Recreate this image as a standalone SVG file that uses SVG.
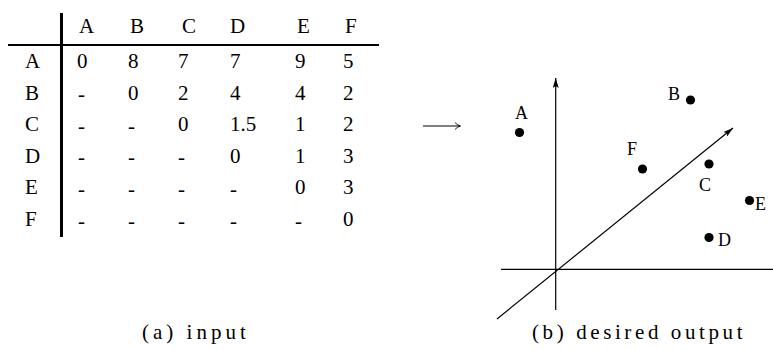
<svg xmlns="http://www.w3.org/2000/svg" width="773" height="350" viewBox="0 0 773 350">
<defs>
<style>
.ln{stroke:#000;fill:none}
.dot{fill:#000}
</style>
<marker id="ah" viewBox="0 0 10 6" refX="10" refY="3" markerWidth="10" markerHeight="6" markerUnits="userSpaceOnUse" orient="auto">
<path d="M0,0 L10,3 L0,6 L2,3 Z" fill="#000"/>
</marker>
</defs>
<rect width="773" height="350" fill="#fff"/>
<g id="table">
<line x1="61.5" y1="13" x2="61.5" y2="237" stroke="#000" stroke-width="3"/>
<line x1="8" y1="45" x2="379" y2="45" stroke="#000" stroke-width="1.8"/>
<text x="79" y="33" font-family="Liberation Serif, serif" font-size="21">A</text>
<text x="130" y="33" font-family="Liberation Serif, serif" font-size="21">B</text>
<text x="182" y="33" font-family="Liberation Serif, serif" font-size="21">C</text>
<text x="230" y="33" font-family="Liberation Serif, serif" font-size="21">D</text>
<text x="297" y="33" font-family="Liberation Serif, serif" font-size="21">E</text>
<text x="345" y="33" font-family="Liberation Serif, serif" font-size="21">F</text>
<text x="25" y="68" font-family="Liberation Serif, serif" font-size="21">A</text>
<text x="77" y="68" font-family="Liberation Serif, serif" font-size="21">0</text>
<text x="128" y="68" font-family="Liberation Serif, serif" font-size="21">8</text>
<text x="178" y="68" font-family="Liberation Serif, serif" font-size="21">7</text>
<text x="230" y="68" font-family="Liberation Serif, serif" font-size="21">7</text>
<text x="295" y="68" font-family="Liberation Serif, serif" font-size="21">9</text>
<text x="343" y="68" font-family="Liberation Serif, serif" font-size="21">5</text>
<text x="25" y="99.5" font-family="Liberation Serif, serif" font-size="21">B</text>
<text x="78" y="101" font-family="Liberation Serif, serif" font-size="21">-</text>
<text x="128" y="99.5" font-family="Liberation Serif, serif" font-size="21">0</text>
<text x="178" y="99.5" font-family="Liberation Serif, serif" font-size="21">2</text>
<text x="230" y="99.5" font-family="Liberation Serif, serif" font-size="21">4</text>
<text x="295" y="99.5" font-family="Liberation Serif, serif" font-size="21">4</text>
<text x="343" y="99.5" font-family="Liberation Serif, serif" font-size="21">2</text>
<text x="25" y="131" font-family="Liberation Serif, serif" font-size="21">C</text>
<text x="78" y="132.5" font-family="Liberation Serif, serif" font-size="21">-</text>
<text x="128" y="132.5" font-family="Liberation Serif, serif" font-size="21">-</text>
<text x="178" y="131" font-family="Liberation Serif, serif" font-size="21">0</text>
<text x="230" y="131" font-family="Liberation Serif, serif" font-size="21">1.5</text>
<text x="295" y="131" font-family="Liberation Serif, serif" font-size="21">1</text>
<text x="343" y="131" font-family="Liberation Serif, serif" font-size="21">2</text>
<text x="25" y="162.5" font-family="Liberation Serif, serif" font-size="21">D</text>
<text x="78" y="164" font-family="Liberation Serif, serif" font-size="21">-</text>
<text x="128" y="164" font-family="Liberation Serif, serif" font-size="21">-</text>
<text x="178" y="164" font-family="Liberation Serif, serif" font-size="21">-</text>
<text x="230" y="162.5" font-family="Liberation Serif, serif" font-size="21">0</text>
<text x="295" y="162.5" font-family="Liberation Serif, serif" font-size="21">1</text>
<text x="343" y="162.5" font-family="Liberation Serif, serif" font-size="21">3</text>
<text x="25" y="194" font-family="Liberation Serif, serif" font-size="21">E</text>
<text x="78" y="195.5" font-family="Liberation Serif, serif" font-size="21">-</text>
<text x="128" y="195.5" font-family="Liberation Serif, serif" font-size="21">-</text>
<text x="178" y="195.5" font-family="Liberation Serif, serif" font-size="21">-</text>
<text x="230" y="195.5" font-family="Liberation Serif, serif" font-size="21">-</text>
<text x="295" y="194" font-family="Liberation Serif, serif" font-size="21">0</text>
<text x="343" y="194" font-family="Liberation Serif, serif" font-size="21">3</text>
<text x="25" y="226" font-family="Liberation Serif, serif" font-size="21">F</text>
<text x="78" y="227.5" font-family="Liberation Serif, serif" font-size="21">-</text>
<text x="128" y="227.5" font-family="Liberation Serif, serif" font-size="21">-</text>
<text x="178" y="227.5" font-family="Liberation Serif, serif" font-size="21">-</text>
<text x="230" y="227.5" font-family="Liberation Serif, serif" font-size="21">-</text>
<text x="295" y="227.5" font-family="Liberation Serif, serif" font-size="21">-</text>
<text x="343" y="226" font-family="Liberation Serif, serif" font-size="21">0</text>
</g>
<g id="connectors">
<line class="ln" x1="423" y1="126" x2="460" y2="126" stroke-width="1"/>
<path class="ln" d="M455,122.5 Q457,125 460.5,126 Q457,127 455,129.5" stroke-width="0.9"/>
<line class="ln" x1="555.7" y1="310" x2="555.7" y2="78" stroke-width="1.2" marker-end="url(#ah)"/>
<line class="ln" x1="501" y1="269.3" x2="773" y2="269.3" stroke-width="1.2"/>
<line class="ln" x1="497" y1="319" x2="733" y2="128" stroke-width="1.2" marker-end="url(#ah)"/>
</g>
<g id="node-A"><circle class="dot" cx="519.5" cy="132.5" r="4.6"/><text x="515" y="119" font-family="Liberation Serif, serif" font-size="18">A</text></g>
<g id="node-B"><circle class="dot" cx="690.5" cy="100" r="4.6"/><text x="668" y="99.5" font-family="Liberation Serif, serif" font-size="18">B</text></g>
<g id="node-F"><circle class="dot" cx="642.5" cy="169" r="4.6"/><text x="627" y="155" font-family="Liberation Serif, serif" font-size="18">F</text></g>
<g id="node-C"><circle class="dot" cx="709" cy="164" r="4.6"/><text x="699" y="191" font-family="Liberation Serif, serif" font-size="18">C</text></g>
<g id="node-E"><circle class="dot" cx="749.5" cy="200.5" r="4.6"/><text x="755" y="209.5" font-family="Liberation Serif, serif" font-size="18">E</text></g>
<g id="node-D"><circle class="dot" cx="709" cy="237.5" r="4.6"/><text x="718" y="246" font-family="Liberation Serif, serif" font-size="18">D</text></g>
<g id="captions">
<text x="142" y="339" font-family="Liberation Serif, serif" font-size="21" letter-spacing="4">(a) input</text>
<text x="532" y="339" font-family="Liberation Serif, serif" font-size="21" letter-spacing="3.6">(b) desired output</text>
</g>
</svg>
